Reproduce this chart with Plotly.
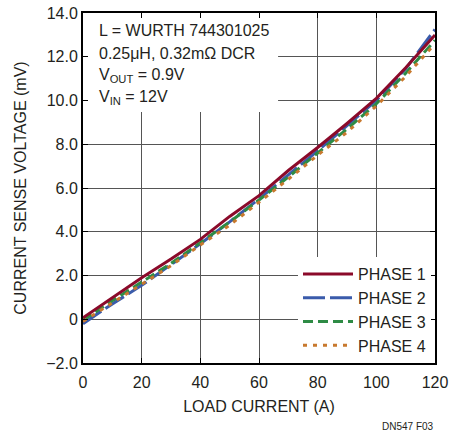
import plotly.graph_objects as go

load_current = [0, 10, 20, 30, 40, 50, 60, 70, 80, 90, 100, 110, 120]
phase1 = [0.07, 1.0, 1.9, 2.75, 3.65, 4.7, 5.65, 6.8, 7.85, 8.95, 10.1, 11.5, 13.0]
phase2 = [-0.2, 0.7, 1.55, 2.5, 3.45, 4.45, 5.5, 6.6, 7.7, 8.85, 10.0, 11.45, 13.25]
phase3 = [-0.05, 0.85, 1.7, 2.55, 3.5, 4.45, 5.45, 6.5, 7.6, 8.7, 9.85, 11.25, 12.75]
phase4 = [-0.1, 0.75, 1.6, 2.45, 3.4, 4.3, 5.35, 6.4, 7.5, 8.55, 9.75, 11.1, 12.6]

x_ticks = [0, 20, 40, 60, 80, 100, 120]
y_ticks = [-2, 0, 2, 4, 6, 8, 10, 12, 14]
y_ticktext = ["\u22122.0", "0", "2.0", "4.0", "6.0", "8.0", "10.0", "12.0", "14.0"]

FONT = "Liberation Sans Narrow, Arial Narrow, Liberation Sans, Arial, sans-serif"
TXT = "#231f20"

W, H = 451, 431
ML, MT, MR, MB = 83, 13, 16, 68
PW, PH = W - ML - MR, H - MT - MB  # 352 x 350


def px(xp):  # page x -> paper
    return (xp - ML) / PW


def py(yp):  # page y -> paper
    return (H - MB - yp) / PH


fig = go.Figure()
series = [
    ("PHASE 2", phase2, "#3a5bab", "22px,5px", 2),
    ("PHASE 3", phase3, "#2e8b45", "10px,5px", 3),
    ("PHASE 4", phase4, "#c8792e", "4px,6px", 4),
    ("PHASE 1", phase1, "#8b0a2a", "solid", 1),
]
for name, ys, color, dash, rank in series:
    fig.add_trace(go.Scatter(
        x=load_current, y=ys, mode="lines", name=name,
        line=dict(color=color, width=3, dash=dash),
        legendrank=rank,
    ))

# white box behind the text block
fig.add_shape(type="rect", xref="x", yref="y", x0=0, x1=66.5, y0=9.47, y1=14,
              fillcolor="white", line=dict(width=0), layer="between")

lines = [
    ("L = WURTH 744301025", 31),
    ("0.25\u03bcH, 0.32m\u03a9 DCR", 53),
    ("V<sub>OUT</sub> = 0.9V", 75),
    ("V<sub>IN</sub> = 12V", 97),
]
for txt, ypx in lines:
    fig.add_annotation(text=txt, xref="paper", yref="paper",
                       x=px(97), y=py(ypx),
                       xanchor="left", yanchor="middle", showarrow=False,
                       font=dict(family=FONT, size=16, color=TXT))

fig.add_annotation(text="DN547 F03", xref="paper", yref="paper",
                   x=px(436), y=py(426),
                   xanchor="right", yanchor="middle", showarrow=False,
                   font=dict(family=FONT, size=10, color=TXT))

axis_common = dict(
    showline=True, linecolor="black", linewidth=2, mirror="ticks",
    ticks="inside", ticklen=5, tickwidth=1, tickcolor="black",
    showgrid=True, gridcolor="#555555", gridwidth=1, zeroline=False,
    tickfont=dict(family=FONT, size=16, color=TXT), automargin=False,
    ticklabeloverflow="allow",
)

fig.update_xaxes(range=[0, 120], tickvals=x_ticks, ticklabelstandoff=4,
                 title=dict(text="LOAD CURRENT (A)", font=dict(family=FONT, size=16, color=TXT), standoff=11),
                 **axis_common)
fig.update_yaxes(range=[-2, 14], tickvals=y_ticks, ticktext=y_ticktext,
                 title=dict(text="CURRENT SENSE VOLTAGE (mV)", font=dict(family=FONT, size=16, color=TXT), standoff=16),
                 **axis_common)

fig.update_layout(
    width=W, height=H,
    margin=dict(l=ML, r=MR, t=MT, b=MB, autoexpand=False),
    paper_bgcolor="white", plot_bgcolor="white",
    showlegend=True,
    legend=dict(x=px(431), xanchor="right", y=py(310), yanchor="middle",
                bgcolor="white", borderwidth=0, itemwidth=50,
                font=dict(family=FONT, size=16, color=TXT),
                tracegroupgap=0),
    font=dict(family=FONT),
)

fig.write_html("out.html", config={"displayModeBar": False},
               post_script="document.body.style.margin='0';")
